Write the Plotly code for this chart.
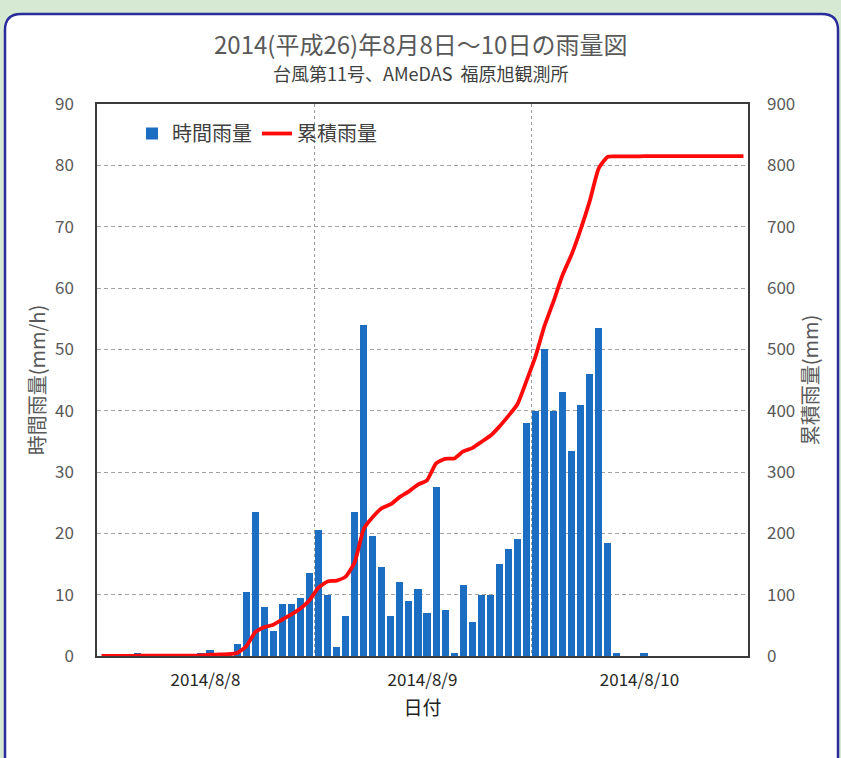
import pandas as pd
import plotly.graph_objects as go

# ---- data ----
hour_mid = pd.date_range("2014-08-08 00:30", periods=72, freq="h")  # bar centres, one per hour
hourly_rain = [
    0, 0, 0, 0, 0.5, 0, 0, 0, 0, 0, 0, 0.5,
    1.0, 0.5, 0.5, 2.0, 10.5, 23.5, 8.0, 4.0, 8.5, 8.5, 9.5, 13.5,
    20.5, 10.0, 1.5, 6.5, 23.5, 54.0, 19.5, 14.5, 6.5, 12.0, 9.0, 11.0,
    7.0, 27.5, 7.5, 0.5, 11.5, 5.5, 10.0, 10.0, 15.0, 17.5, 19.0, 38.0,
    40.0, 50.0, 40.0, 43.0, 33.5, 41.0, 46.0, 53.5, 18.5, 0.5, 0, 0,
    0.5, 0, 0, 0, 0, 0, 0, 0, 0, 0, 0, 0,
]
cumulative_rain = [
    0, 0, 0, 0, 0.5, 0.5, 0.5, 0.5, 0.5, 0.5, 0.5, 1.0,
    2.0, 2.5, 3.0, 5.0, 15.5, 39.0, 47.0, 51.0, 59.5, 68.0, 77.5, 91.0,
    111.5, 121.5, 123.0, 129.5, 153.0, 207.0, 226.5, 241.0, 247.5, 259.5, 268.5, 279.5,
    286.5, 314.0, 321.5, 322.0, 333.5, 339.0, 349.0, 359.0, 374.0, 391.5, 410.5, 448.5,
    488.5, 538.5, 578.5, 621.5, 655.0, 696.0, 742.0, 795.5, 814.0, 814.5, 814.5, 814.5,
    815.0, 815.0, 815.0, 815.0, 815.0, 815.0, 815.0, 815.0, 815.0, 815.0, 815.0, 815.0,
]
day_tick_vals = ["2014-08-08 12:00", "2014-08-09 12:00", "2014-08-10 12:00"]
day_tick_text = ["2014/8/8", "2014/8/9", "2014/8/10"]
day_bounds = ["2014-08-09 00:00", "2014-08-10 00:00"]

W, H = 841, 758
ML, MR, MT, MB = 97, 93, 104, 102
PW, PH = W - ML - MR, H - MT - MB

def px(x):
    return (x - ML) / PW

def py(y):
    return (H - MB - y) / PH

JP = "Noto Sans CJK JP"
GRAY = "#595959"

fig = go.Figure()
fig.add_trace(go.Bar(
    x=hour_mid, y=hourly_rain, name="時間雨量",
    marker=dict(color="#1b6ec2", line=dict(width=0)),
    width=0.78 * 3600000, yaxis="y",
))
fig.add_trace(go.Scatter(
    x=hour_mid, y=cumulative_rain, name="累積雨量", mode="lines",
    line=dict(color="#ff0a0a", width=3.8, shape="spline", smoothing=0.5),
    yaxis="y2",
))

# white rounded panel
x0, x1, y0, y1, r = 5, 838, 14, 820, 16
path = (f"M {px(x0)},{py(y1)} L {px(x0)},{py(y0 + r)} "
        f"Q {px(x0)},{py(y0)} {px(x0 + r)},{py(y0)} "
        f"L {px(x1 - r)},{py(y0)} Q {px(x1)},{py(y0)} {px(x1)},{py(y0 + r)} "
        f"L {px(x1)},{py(y1)} Z")
fig.add_shape(type="path", path=path, xref="paper", yref="paper",
              fillcolor="white", line=dict(color="#2a2c9c", width=2.5), layer="below")

fig.add_annotation(text="2014(平成26)年8月8日～10日の雨量図", x=px(420), y=py(43),
                   xref="paper", yref="paper", showarrow=False,
                   xanchor="center", yanchor="middle",
                   font=dict(family=JP, size=24, color=GRAY))
fig.add_annotation(text="台風第11号、AMeDAS  福原旭観測所", x=px(420), y=py(73),
                   xref="paper", yref="paper", showarrow=False,
                   xanchor="center", yanchor="middle",
                   font=dict(family=JP, size=18, color="#404040"))

fig.update_layout(
    width=W, height=H,
    margin=dict(l=ML, r=MR, t=MT, b=MB),
    paper_bgcolor="#d6ead3",
    plot_bgcolor="#dde8f4",
    font=dict(family=JP, color=GRAY),
    showlegend=True,
    legend=dict(orientation="h", x=px(132), y=py(114), xanchor="left", yanchor="top",
                bgcolor="rgba(0,0,0,0)", font=dict(family=JP, size=20, color="#404040"),
                itemwidth=30, traceorder="normal"),
    bargap=0,
    xaxis=dict(
        type="date", range=["2014-08-08 00:00", "2014-08-11 00:00"],
        tickmode="array", tickvals=day_tick_vals, ticktext=day_tick_text,
        showgrid=False, ticks="", ticklabelstandoff=8,
        tickfont=dict(family=JP, size=17, color="#262626"),
        showline=True, linecolor="#3a3a3a", linewidth=1.5, mirror=True,
        minor=dict(tickvals=day_bounds, showgrid=True, gridcolor="#9a9a9a",
                   griddash="dot", gridwidth=1),
        title=dict(text="日付", font=dict(family=JP, size=19, color="#222222"), standoff=12),
        zeroline=False,
    ),
    yaxis=dict(
        range=[0, 90], dtick=10, tick0=0,
        showgrid=True, gridcolor="#a3a3a3", griddash="4px,3px", gridwidth=1,
        showline=True, linecolor="#3a3a3a", linewidth=1.5, mirror=True,
        ticks="", ticklabelstandoff=18,
        tickfont=dict(family=JP, size=17, color=GRAY),
        title=dict(text="時間雨量(mm/h)", font=dict(family=JP, size=20, color=GRAY), standoff=4),
        zeroline=False,
    ),
    yaxis2=dict(
        range=[0, 900], dtick=100, tick0=0, overlaying="y", side="right",
        showgrid=False, showline=False, ticks="", ticklabelstandoff=18,
        tickfont=dict(family=JP, size=17, color=GRAY),
        title=dict(text="累積雨量(mm)", font=dict(family=JP, size=20, color=GRAY), standoff=4),
        zeroline=False,
    ),
)

fig.write_html("out.html", config={"displayModeBar": False},
               post_script="document.body.style.margin='0';")
